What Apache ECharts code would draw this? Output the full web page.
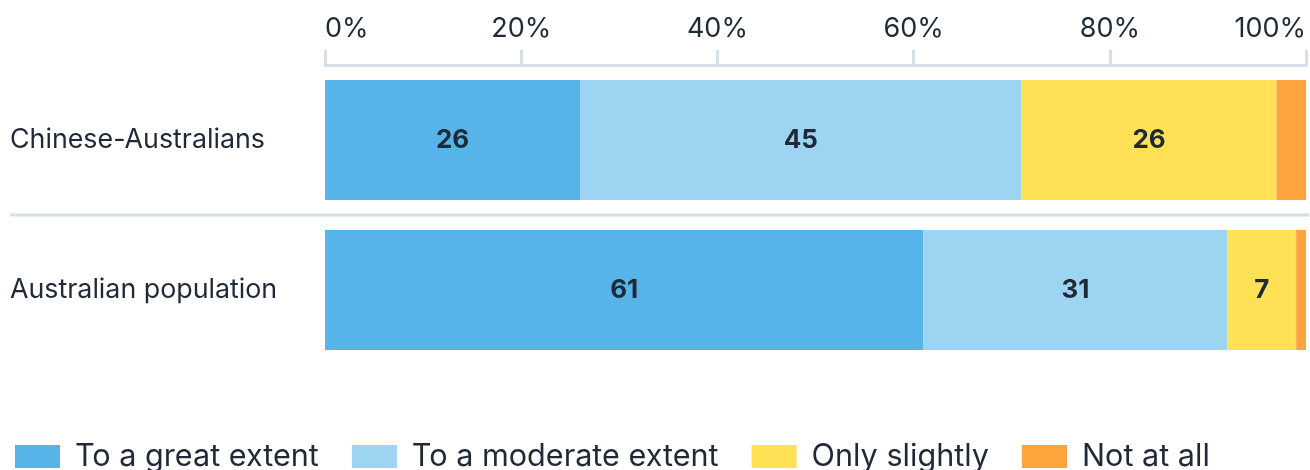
<!DOCTYPE html>
<html>
<head>
<meta charset="utf-8">
<title>Extent of agreement</title>
<script src="https://cdn.jsdelivr.net/npm/echarts@6/dist/echarts.min.js"></script>
<style>
  html, body { margin: 0; padding: 0; background: #ffffff; }
  #chart { width: 1310px; height: 470px; }
</style>
</head>
<body>
<div id="chart"></div>
<script>
// Groups surveyed, top to bottom
const groups = ['Chinese-Australians', 'Australian population'];

// Share of respondents (%) per answer, one entry per group
const greatExtent = [26, 61];
const moderateExtent = [45, 31];
const onlySlightly = [26, 7];
const notAtAll = [3, 1];

const seriesNames = ['To a great extent', 'To a moderate extent', 'Only slightly', 'Not at all'];
const seriesValues = [greatExtent, moderateExtent, onlySlightly, notAtAll];
const seriesColors = ['#57b4e8', '#9cd4f1', '#fee155', '#ffa43c'];

const textColor = '#1f2937';
const ruleColor = '#d6dfe7';
const fontFamily = 'Inter, "Noto Sans", sans-serif';

const chart = echarts.init(document.getElementById('chart'), null, { renderer: 'canvas' });

const series = seriesNames.map((name, i) => ({
  name: name,
  type: 'bar',
  stack: 'total',
  barWidth: 120,
  data: seriesValues[i],
  itemStyle: { color: seriesColors[i] },
  label: {
    show: i < 3,
    position: 'inside',
    color: textColor,
    fontFamily: fontFamily,
    fontSize: 26,
    fontWeight: 'bold'
  },
  emphasis: { disabled: true }
}));

chart.setOption({
  animation: false,
  textStyle: { fontFamily: fontFamily },
  grid: { left: 325, right: 4, top: 65, height: 300, containLabel: false },
  xAxis: {
    type: 'value',
    position: 'top',
    min: 0,
    max: 100,
    interval: 20,
    axisLine: { show: true, lineStyle: { color: ruleColor, width: 3 } },
    axisTick: { show: true, length: 15, lineStyle: { color: ruleColor, width: 3 } },
    splitLine: { show: false },
    axisLabel: {
      formatter: '{value}%',
      color: textColor,
      fontSize: 27,
      margin: 23,
      alignMinLabel: 'left',
      alignMaxLabel: 'right'
    }
  },
  yAxis: {
    type: 'category',
    data: groups,
    inverse: true,
    axisLine: { show: false },
    axisTick: { show: false },
    splitLine: { show: false },
    axisLabel: {
      color: textColor,
      fontSize: 26.8,
      align: 'left',
      margin: 315,
      padding: [4, 0, 0, 0]
    }
  },
  legend: {
    left: 10,
    top: 436,
    itemWidth: 45,
    itemHeight: 23,
    itemGap: 33,
    icon: 'rect',
    selectedMode: false,
    textStyle: { color: textColor, fontSize: 30.6, padding: [0, 0, 0, 10] },
    data: seriesNames
  },
  series: series
});

// Rule between the two groups, spanning from the labels to the right edge
const y0 = chart.convertToPixel({ yAxisIndex: 0 }, groups[0]);
const y1 = chart.convertToPixel({ yAxisIndex: 0 }, groups[1]);
const yMid = Math.round((y0 + y1) / 2);
chart.setOption({
  graphic: [{
    type: 'line',
    shape: { x1: 10, y1: yMid, x2: 1309, y2: yMid },
    style: { stroke: ruleColor, lineWidth: 3 },
    silent: true
  }]
});
</script>
</body>
</html>
